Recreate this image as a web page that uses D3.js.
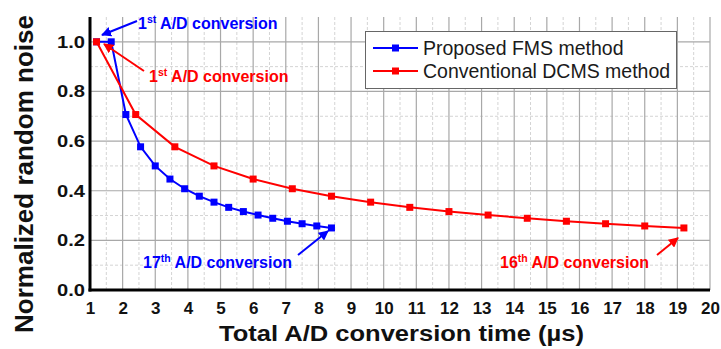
<!DOCTYPE html>
<html>
<head>
<meta charset="utf-8">
<script src="https://cdn.jsdelivr.net/npm/d3@7"></script>
<style>
  html, body { margin: 0; padding: 0; background: #fff; }
  svg { display: block; font-family: "Liberation Sans", Arial, sans-serif; }
</style>
</head>
<body>
<svg id="chart" width="721" height="349"></svg>
<script>
// Conversion time (µs) and normalized noise for each A/D conversion
const fmsTime  = [1.2, 1.65, 2.1, 2.55, 3.0, 3.45, 3.9, 4.35, 4.8, 5.25, 5.7, 6.15, 6.6, 7.05, 7.5, 7.95, 8.4];
const fmsNoise = [1.0, 1.0, 0.707, 0.577, 0.5, 0.447, 0.408, 0.378, 0.354, 0.333, 0.316, 0.302, 0.289, 0.277, 0.267, 0.258, 0.25];
const dcmsTime  = [1.2, 2.4, 3.6, 4.8, 6.0, 7.2, 8.4, 9.6, 10.8, 12.0, 13.2, 14.4, 15.6, 16.8, 18.0, 19.2];
const dcmsNoise = [1.0, 0.707, 0.577, 0.5, 0.447, 0.408, 0.378, 0.354, 0.333, 0.316, 0.302, 0.289, 0.277, 0.267, 0.258, 0.25];
const xTicks = [1, 2, 3, 4, 5, 6, 7, 8, 9, 10, 11, 12, 13, 14, 15, 16, 17, 18, 19, 20];
const yTicks = [0.0, 0.2, 0.4, 0.6, 0.8, 1.0];
const seriesNames = ["Proposed FMS method", "Conventional DCMS method"];

const svg = d3.select("#chart");
const pLeft = 90, pRight = 710, pTop = 17, pBottom = 290;

const x = d3.scaleLinear().domain([1, 20]).range([pLeft, pRight]);
const y = d3.scaleLinear().domain([0, 1.1]).range([pBottom, pTop]);

// grid: dashed minor lines, solid major lines
const grid = svg.append("g");
const xMinor = d3.range(1.5, 20, 1);
const yMinor = [0.1, 0.3, 0.5, 0.7, 0.9];
grid.selectAll(".vmin").data(xMinor).join("line")
  .attr("x1", d => x(d)).attr("x2", d => x(d)).attr("y1", pTop).attr("y2", pBottom)
  .attr("stroke", "#d4d4d4").attr("stroke-width", 1).attr("stroke-dasharray", "3,2");
grid.selectAll(".hmin").data(yMinor).join("line")
  .attr("x1", pLeft).attr("x2", pRight).attr("y1", d => y(d)).attr("y2", d => y(d))
  .attr("stroke", "#d4d4d4").attr("stroke-width", 1).attr("stroke-dasharray", "3,2");
grid.selectAll(".vmaj").data(xTicks.slice(1)).join("line")
  .attr("x1", d => x(d)).attr("x2", d => x(d)).attr("y1", pTop).attr("y2", pBottom)
  .attr("stroke", "#a8a8a8").attr("stroke-width", 1.2);
grid.selectAll(".hmaj").data(yTicks.slice(1)).join("line")
  .attr("x1", pLeft).attr("x2", pRight).attr("y1", d => y(d)).attr("y2", d => y(d))
  .attr("stroke", "#a8a8a8").attr("stroke-width", 1.2);

// axes
const xAxis = svg.append("g").attr("transform", `translate(0,${pBottom})`)
  .call(d3.axisBottom(x).tickValues(xTicks).tickSize(0).tickPadding(12).tickFormat(d3.format("d")));
const yAxis = svg.append("g").attr("transform", `translate(${pLeft},0)`)
  .call(d3.axisLeft(y).tickValues(yTicks).tickSize(0).tickPadding(5).tickFormat(d3.format(".1f")));
[xAxis, yAxis].forEach(a => {
  a.select(".domain").attr("stroke", "#000").attr("stroke-width", 3);
  a.selectAll("text").attr("font-family", "Liberation Sans, Arial, sans-serif")
    .attr("font-weight", "bold").attr("font-size", 17).attr("fill", "#111");
});
yAxis.selectAll("text").attr("textLength", 28).attr("lengthAdjust", "spacingAndGlyphs");
xAxis.select(".domain").attr("d", `M${pLeft - 1.5},0H${pRight}`);
yAxis.select(".domain").attr("d", `M0,${pTop}V${pBottom + 1.5}`);

// axis titles
svg.append("text").attr("x", 401.5).attr("y", 341).attr("text-anchor", "middle")
  .attr("font-weight", "bold").attr("font-size", 22).attr("fill", "#111")
  .attr("textLength", 365).attr("lengthAdjust", "spacingAndGlyphs")
  .text("Total A/D conversion time (µs)");
svg.append("text").attr("transform", "translate(33,174) rotate(-90)").attr("text-anchor", "middle")
  .attr("font-weight", "bold").attr("font-size", 25).attr("fill", "#111")
  .attr("textLength", 318).attr("lengthAdjust", "spacingAndGlyphs")
  .text("Normalized random noise");

// series
const series = [
  { t: fmsTime, v: fmsNoise, color: "#0000ff" },
  { t: dcmsTime, v: dcmsNoise, color: "#ff0000" }
];
const line = d3.line().x(d => x(d[0])).y(d => y(d[1]));
const ms = 7;
series.forEach(s => {
  const pts = d3.zip(s.t, s.v);
  const g = svg.append("g");
  g.append("path").datum(pts).attr("d", line).attr("fill", "none")
    .attr("stroke", s.color).attr("stroke-width", 2);
  g.selectAll("rect").data(pts).join("rect")
    .attr("x", d => x(d[0]) - ms / 2).attr("y", d => y(d[1]) - ms / 2)
    .attr("width", ms).attr("height", ms).attr("fill", s.color);
});

// legend
const lg = svg.append("g");
lg.append("rect").attr("x", 365.5).attr("y", 31.5).attr("width", 311).attr("height", 57)
  .attr("fill", "#fff").attr("stroke", "#666").attr("stroke-width", 1);
series.forEach((s, i) => {
  const cy = 48 + i * 23;
  lg.append("line").attr("x1", 373).attr("x2", 418).attr("y1", cy).attr("y2", cy)
    .attr("stroke", s.color).attr("stroke-width", 2);
  lg.append("rect").attr("x", 392).attr("y", cy - 3.5).attr("width", 7).attr("height", 7).attr("fill", s.color);
  lg.append("text").attr("x", 423).attr("y", cy + 6.5).attr("font-size", 19.5).attr("fill", "#1a1a1a")
    .text(seriesNames[i]);
});

// annotations with arrows
const defs = svg.append("defs");
["#0000ff", "#ff0000"].forEach((c, i) => {
  defs.append("marker").attr("id", "arr" + i).attr("viewBox", "0 0 10 10")
    .attr("refX", 9).attr("refY", 5).attr("markerWidth", 5).attr("markerHeight", 5)
    .attr("orient", "auto").attr("markerUnits", "strokeWidth")
    .append("path").attr("d", "M0,0L10,5L0,10Z").attr("fill", c);
});
const notes = [
  { n: "1", sup: "st", tx: 138, ty: 29, color: "#0000ff", m: 0, a: [137, 21, 102, 35] },
  { n: "1", sup: "st", tx: 149, ty: 82, color: "#ff0000", m: 1, a: [144, 71, 104, 44] },
  { n: "17", sup: "th", tx: 143, ty: 268, color: "#0000ff", m: 0, a: [298, 255, 328, 231] },
  { n: "16", sup: "th", tx: 500, ty: 268, color: "#ff0000", m: 1, a: [657, 255, 678, 238] }
];
notes.forEach(d => {
  const t = svg.append("text").attr("x", d.tx).attr("y", d.ty).attr("fill", d.color)
    .attr("font-weight", "bold").attr("font-size", 16);
  t.append("tspan").text(d.n);
  t.append("tspan").attr("font-size", 10.5).attr("dy", -6).text(d.sup);
  t.append("tspan").attr("dy", 6).text(" A/D conversion");
  svg.append("line").attr("x1", d.a[0]).attr("y1", d.a[1]).attr("x2", d.a[2]).attr("y2", d.a[3])
    .attr("stroke", d.color).attr("stroke-width", 2).attr("marker-end", `url(#arr${d.m})`);
});
</script>
</body>
</html>
